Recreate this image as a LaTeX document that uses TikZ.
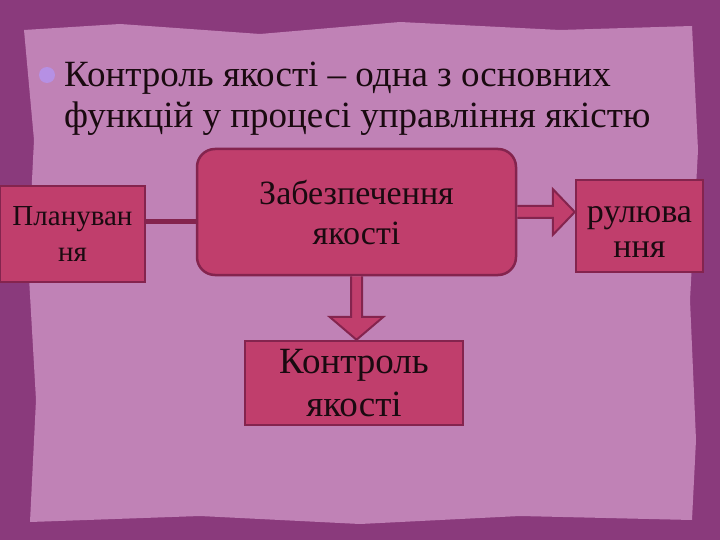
\documentclass[tikz,border=0pt]{standalone}
\usepackage{fontspec}
\setmainfont{Liberation Serif}
\usetikzlibrary{calc}

\definecolor{frame}{RGB}{138,58,124}
\definecolor{paper}{RGB}{192,130,182}
\definecolor{boxfill}{RGB}{192,62,108}
\definecolor{boxline}{RGB}{132,36,78}
\definecolor{ink}{RGB}{26,10,16}
\definecolor{dot}{RGB}{182,144,228}

\begin{document}
\begin{tikzpicture}[x=1pt,y=-1pt]
    % Define box styles
    \tikzstyle{box}=[draw=boxline, line width=2.5pt, fill=boxfill, text=ink, align=center, inner sep=0pt]
    \tikzstyle{stage}=[box, rounded corners=18pt]
    \tikzstyle{link}=[draw=boxline, line width=5pt]
    \tikzstyle{blockarrow}=[draw=boxline, line width=2pt, fill=boxfill, line join=miter]

    % Slide background
    \useasboundingbox (0,0) rectangle (720,540);
    \fill[frame] (0,0) rectangle (720,540);
    \fill[paper] (24,30) -- (120,24) -- (260,34) -- (400,22) -- (560,30) -- (692,26)
        -- (698,150) -- (690,300) -- (696,440) -- (692,520) -- (520,516) -- (360,524)
        -- (200,516) -- (30,522) -- (36,400) -- (28,260) -- (34,140) -- cycle;

    % Heading with bullet
    \fill[dot] (47,75) circle (8);
    \node[anchor=west, align=left, inner sep=0pt, text=ink, font=\fontsize{37}{41}\selectfont] (title) at (64,99)
        {Контроль якості – одна з основних\\функцій у процесі управління якістю};

    % Place boxes
    \node[box, minimum width=145, minimum height=96, font=\fontsize{29}{36}\selectfont] (plan) at (72.5,234) {Плануван\\ня};
    \node[stage, minimum width=319, minimum height=126, font=\fontsize{34}{40}\selectfont] (main) at (356.5,212) {Забезпечення\\якості};
    \node[box, minimum width=127, minimum height=92, font=\fontsize{34}{35}\selectfont] (rul) at (639.5,226) {\rule{0pt}{28pt}рулюва\\ння};
    \node[box, minimum width=218, minimum height=84, font=\fontsize{37}{43}\selectfont] (kon) at (354,383) {Контроль\\якості};

    % Connect boxes
    \draw[link] ([yshift=12pt]plan.east) -- ([yshift=12pt]plan.east -| main.west);
    \draw[blockarrow] let \p1=(main.east), \p2=(rul.west) in
        (\x1,\y1+6pt) -- (\x2-22pt,\y1+6pt) -- (\x2-22pt,\y1+23pt) -- (\x2,\y1)
        -- (\x2-22pt,\y1-23pt) -- (\x2-22pt,\y1-6pt) -- (\x1,\y1-6pt);
    \draw[blockarrow] let \p1=(main.south), \p2=(kon.north) in
        (\x1-5.5pt,\y1) -- (\x1-5.5pt,\y2+23pt) -- (\x1-27pt,\y2+23pt) -- (\x1,\y2)
        -- (\x1+27pt,\y2+23pt) -- (\x1+5.5pt,\y2+23pt) -- (\x1+5.5pt,\y1);
\end{tikzpicture}
\end{document}
